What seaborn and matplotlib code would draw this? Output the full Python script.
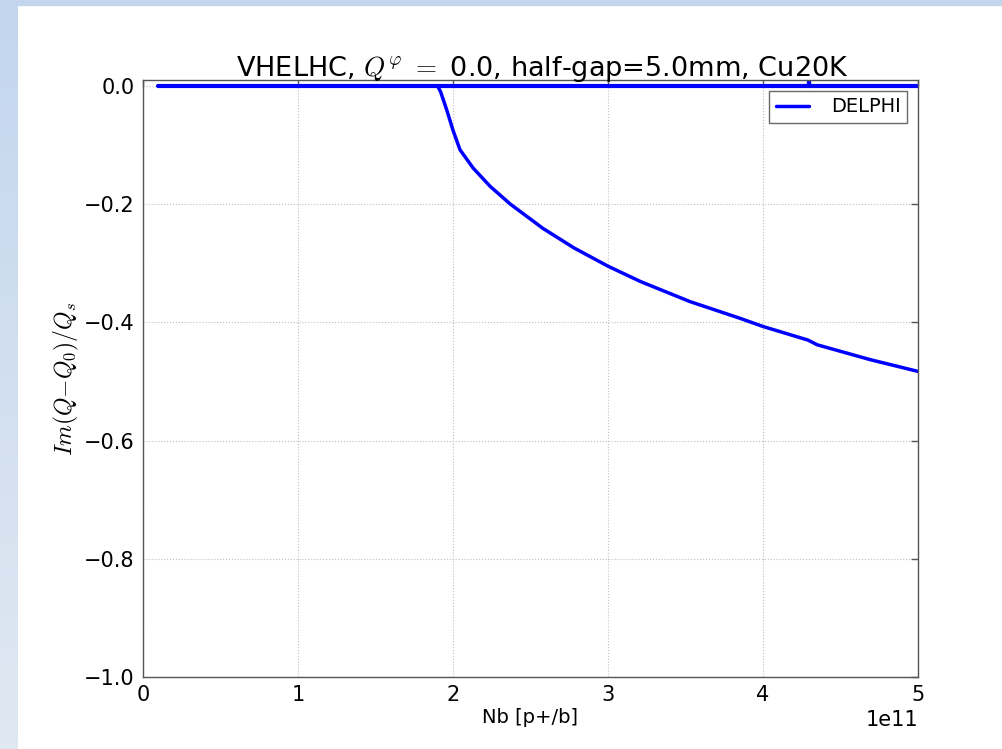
import numpy as np
import pandas as pd
import matplotlib
matplotlib.use('Agg')
import matplotlib.pyplot as plt
from matplotlib.colors import LinearSegmentedColormap
from matplotlib.patches import Rectangle
import seaborn as sns

# Nb values in units of 1e11 p+/b
nb_flat = [0.1, 0.5, 1.0, 1.5, 2.0, 2.5, 3.0, 3.5, 4.0, 4.3, 4.3, 4.3, 4.5, 5.0]
im_flat = [0.0, 0.0, 0.0, 0.0, 0.0, 0.0, 0.0, 0.0, 0.0, 0.0, 0.05, 0.0, 0.0, 0.0]

nb_mode = [0.1, 0.5, 1.0, 1.5, 1.9, 1.92, 1.96, 2.0, 2.045, 2.13, 2.24, 2.37, 2.58,
           2.78, 3.0, 3.21, 3.53, 3.85, 4.0, 4.29, 4.35, 4.69, 5.0]
im_mode = [0.0, 0.0, 0.0, 0.0, 0.0, -0.010, -0.041, -0.075, -0.108, -0.139, -0.170,
           -0.200, -0.241, -0.274, -0.305, -0.331, -0.365, -0.393, -0.407, -0.430,
           -0.438, -0.463, -0.483]

df_flat = pd.DataFrame({'Nb': np.array(nb_flat) * 1e11, 'Im': im_flat})
df_mode = pd.DataFrame({'Nb': np.array(nb_mode) * 1e11, 'Im': im_mode})

sns.set_style('white')
plt.rcParams['font.family'] = ['DejaVu Sans']
plt.rcParams['mathtext.fontset'] = 'cm'
plt.rcParams['axes.unicode_minus'] = True
plt.rcParams['text.color'] = 'black'
plt.rcParams['axes.labelcolor'] = 'black'
plt.rcParams['xtick.color'] = 'black'
plt.rcParams['ytick.color'] = 'black'

fig = plt.figure(figsize=(10.03, 7.49), dpi=100)
fig.patch.set_facecolor('white')

# light blue screenshot border
grad = fig.add_axes([0, 0, 18 / 1003, 1])
cmap = LinearSegmentedColormap.from_list('edge', ['#c3d6ee', '#e0e8f2'])
grad.imshow(np.linspace(0, 1, 100).reshape(-1, 1), aspect='auto', cmap=cmap)
grad.axis('off')
fig.patches.append(Rectangle((0, 1 - 5 / 749), 1, 5 / 749, transform=fig.transFigure,
                             color='#c3d6ee', zorder=0))

ax = fig.add_axes([143 / 1003, 1 - 677 / 749, 775 / 1003, 597 / 749])

sns.lineplot(x='Nb', y='Im', data=df_mode, ax=ax, color='blue', lw=2.5,
             sort=False, estimator=None, label='DELPHI')
sns.lineplot(x='Nb', y='Im', data=df_flat, ax=ax, color='blue', lw=3,
             sort=False, estimator=None)

ax.set_xlim(0, 5e11)
ax.set_ylim(-1.0, 0.01)
ax.set_xticks(np.arange(0, 5.01e11, 1e11))
ax.set_yticks(np.arange(-1.0, 0.01, 0.2))
ax.ticklabel_format(axis='x', style='sci', scilimits=(0, 0))
ax.xaxis.get_offset_text().set_fontsize(15)

ax.grid(True, color='0.75', linestyle=':', linewidth=0.8)
for s in ax.spines.values():
    s.set_color('#555555')
    s.set_linewidth(1)
ax.tick_params(direction='in', length=5, width=1, color='#555555', labelsize=15,
               top=True, right=True, pad=6)

ax.set_title(r'VHELHC, $Q^{\varphi}\ =$ 0.0, half-gap=5.0mm, Cu20K', fontsize=19.5,
             pad=3, x=0.515)
ax.set_xlabel('Nb [p+/b]', fontsize=14, labelpad=2)
ax.set_ylabel(r'$Im(Q{-}Q_0)/Q_s$', fontsize=17, labelpad=2)

leg = ax.legend(loc='upper right', fontsize=14, frameon=True, fancybox=False,
                edgecolor='#444444', handlelength=1.7, handletextpad=1.1,
                borderpad=0.35, borderaxespad=0.55)
leg.get_frame().set_linewidth(1)

fig.savefig('out.png', dpi=100)
